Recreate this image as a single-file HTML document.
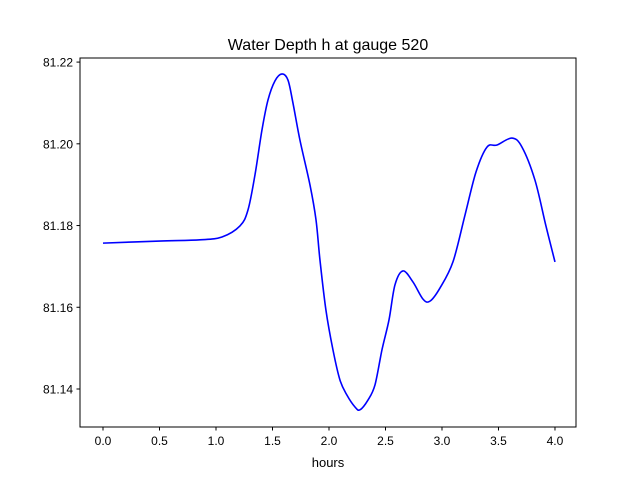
<!DOCTYPE html>
<html><head><meta charset="utf-8"><style>
body{margin:0;background:#fff;font-family:"Liberation Sans","DejaVu Sans",sans-serif}
</style></head><body>
<svg id="chart" width="640" height="480" xmlns="http://www.w3.org/2000/svg">
<rect width="640" height="480" fill="#fff"/>
<text x="328" y="50" text-anchor="middle" font-size="16" fill="#000">Water Depth h at gauge 520</text>
<g id="plot"></g>
<rect x="80" y="58" width="496" height="369" fill="none" stroke="#000" stroke-width="1"/>
<text x="328" y="467" text-anchor="middle" font-size="13" fill="#000">hours</text>
</svg>
<script>
const times=[0,0.5,0.858,1.053,1.212,1.283,1.345,1.407,1.460,1.522,1.584,1.637,1.681,1.743,1.832,1.885,1.920,1.973,2.035,2.097,2.159,2.230,2.274,2.345,2.407,2.469,2.531,2.584,2.655,2.743,2.832,2.894,2.982,3.097,3.204,3.301,3.398,3.487,3.619,3.708,3.823,3.920,4.0];
const depths=[81.1757,81.1762,81.1765,81.1772,81.1799,81.1838,81.1924,81.2034,81.2107,81.2154,81.2171,81.2156,81.2100,81.2009,81.1899,81.1814,81.1716,81.1593,81.1496,81.1422,81.1385,81.1356,81.1349,81.1373,81.1410,81.1496,81.1569,81.1655,81.1689,81.1662,81.1620,81.1615,81.1647,81.1711,81.1826,81.1931,81.1992,81.1997,81.2014,81.1992,81.1911,81.1799,81.1711];
const xTicks=[0,0.5,1.0,1.5,2.0,2.5,3.0,3.5,4.0];
const xTickLabels=["0.0","0.5","1.0","1.5","2.0","2.5","3.0","3.5","4.0"];
const yTicks=[81.14,81.16,81.18,81.20,81.22];
const yTickLabels=["81.14","81.16","81.18","81.20","81.22"];
const X0=80,X1=576,Y0=427,Y1=58,xMin=-0.2035,xMax=4.186,yMin=81.1307,yMax=81.221;
const sx=v=>X0+(v-xMin)/(xMax-xMin)*(X1-X0);
const sy=v=>Y0-(v-yMin)/(yMax-yMin)*(Y0-Y1);
const NS="http://www.w3.org/2000/svg";
const g=document.getElementById('plot');
function mk(t,a){const e=document.createElementNS(NS,t);for(const k in a)e.setAttribute(k,a[k]);return e;}
xTicks.forEach((t,i)=>{
  const x=sx(t);
  const l=mk('line',{x1:x,x2:x,y1:427,y2:430.5,stroke:'#000'});
  
  
  g.appendChild(l);
  const tx=mk('text',{x:x,y:445,'text-anchor':'middle','font-size':'12'});
  
  
  tx.textContent=xTickLabels[i];g.appendChild(tx);
});
yTicks.forEach((t,i)=>{
  const y=sy(t);
  const l=mk('line',{x1:76.5,x2:80,y1:y,y2:y,stroke:'#000'});
  
  
  g.appendChild(l);
  const tx=mk('text',{x:73,y:y+4.5,'text-anchor':'end','font-size':'12'});
  
  
  tx.textContent=yTickLabels[i];g.appendChild(tx);
});
const P=times.map((t,i)=>[sx(t),sy(depths[i])]);
let d='M'+P[0][0]+','+P[0][1];
for(let i=0;i<P.length-1;i++){
  const p0=P[Math.max(0,i-1)],p1=P[i],p2=P[i+1],p3=P[Math.min(P.length-1,i+2)];
  const c1=[p1[0]+(p2[0]-p0[0])/6,p1[1]+(p2[1]-p0[1])/6];
  const c2=[p2[0]-(p3[0]-p1[0])/6,p2[1]-(p3[1]-p1[1])/6];
  d+=' C'+c1[0]+','+c1[1]+' '+c2[0]+','+c2[1]+' '+p2[0]+','+p2[1];
}
const path=mk('path',{d:d,fill:'none',stroke:'#0000ff','stroke-width':'1.6'});


g.appendChild(path);
</script>
</body></html>
